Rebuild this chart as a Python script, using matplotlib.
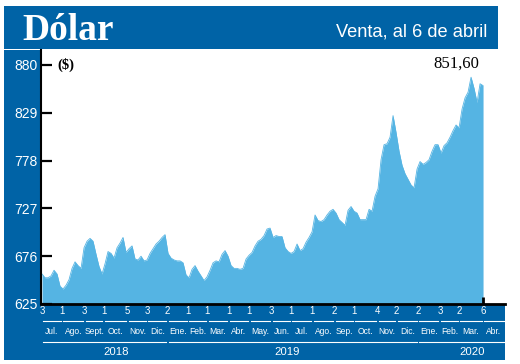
import matplotlib
matplotlib.use('Agg')
import matplotlib.pyplot as plt
from matplotlib import font_manager
from matplotlib.patches import Rectangle
from matplotlib.lines import Line2D
import pandas as pd

# Dólar venta (pesos), puntos repartidos entre el 3-jul-2018 y el 6-abr-2020
valores = [
    657, 653, 653, 655, 661, 657, 644, 641, 645, 651,
    663, 670, 666, 663, 685, 692, 695, 692, 678, 665,
    657, 668, 681, 679, 674, 685, 690, 696, 680, 684,
    687, 673, 672, 676, 671, 672, 679, 684, 689, 692,
    696, 699, 679, 674, 672, 671, 671, 669, 656, 653,
    662, 666, 660, 655, 650, 654, 661, 669, 671, 670,
    678, 682, 676, 666, 663, 663, 662, 663, 673, 677,
    680, 687, 692, 694, 698, 705, 706, 696, 698, 697,
    697, 685, 681, 679, 681, 689, 682, 684, 691, 696,
    702, 720, 714, 713, 715, 720, 724, 726, 722, 715,
    712, 709, 725, 729, 724, 722, 715, 715, 715, 726,
    724, 740, 748, 779, 795, 796, 803, 826, 808, 788,
    773, 764, 758, 752, 749, 769, 777, 774, 776, 779,
    788, 795, 795, 786, 794, 797, 803, 810, 816, 813,
    833, 845, 851, 867, 855, 840, 860, 858,
]
fecha_ini = '2018-07-03'
fecha_fin = '2020-04-06'

# primer día hábil mostrado de cada mes
dias_tick = [3, 1, 3, 1, 5, 3, 2, 1, 1, 1, 1, 3, 1, 1, 2, 1, 4, 2, 2, 3, 2, 6]
meses = ['Jul.', 'Ago.', 'Sept.', 'Oct.', 'Nov.', 'Dic.', 'Ene.', 'Feb.', 'Mar.', 'Abr.',
         'May.', 'Jun.', 'Jul.', 'Ago.', 'Sep.', 'Oct.', 'Nov.', 'Dic.', 'Ene.', 'Feb.',
         'Mar.', 'Abr.']
anios = ['2018', '2019', '2020']
y_ticks = [625, 676, 727, 778, 829, 880]
ultimo = '851,60'

# fuentes
nombres = {f.name for f in font_manager.fontManager.ttflist}
if 'Liberation Sans Narrow' in nombres:
    ANGOSTA = dict(family='Liberation Sans Narrow')
    k = 1.0
else:
    ANGOSTA = dict(family='Liberation Sans')
    k = 0.82

AZUL = '#0063a6'
CELESTE = '#55b4e3'
W, H = 520, 364

fechas = pd.date_range(fecha_ini, fecha_fin, periods=len(valores))
meses_ini = pd.date_range('2018-07-01', periods=len(dias_tick), freq='MS')
ticks = [m + pd.Timedelta(days=d - 1) for m, d in zip(meses_ini, dias_tick)]
t0 = pd.Timestamp(fecha_ini)
x_min = t0 - pd.Timedelta(days=1.5)
x_max = t0 + pd.Timedelta(days=675)

fig = plt.figure(figsize=(W / 100, H / 100), dpi=100)


def caja(x0, y0, x1, y1):
    return Rectangle((x0 / W, 1 - y1 / H), (x1 - x0) / W, (y1 - y0) / H,
                     transform=fig.transFigure, color=AZUL, lw=0, zorder=0)


fig.patches.extend([caja(4, 6, 498, 49), caja(4, 50, 41, 360), caja(41, 304, 505, 360)])

fig.text(22 / W, 1 - 39.5 / H, 'Dólar', color='white', fontsize=27, fontweight='bold',
         family='Liberation Serif', va='baseline', ha='left')
fig.text(487 / W, 1 - 36.7 / H, 'Venta, al 6 de abril', color='white', fontsize=16 * k,
         va='baseline', ha='right', **ANGOSTA)

ax = fig.add_axes([41 / W, 1 - 304 / H, 464 / W, 254 / H])
ax.set_zorder(1)
ax.fill_between(fechas, 625, valores, color=CELESTE, lw=0)
ax.plot(fechas, valores, color=CELESTE, lw=0.6)
ax.set_xlim(x_min, x_max)
ax.set_ylim(625, 880 + 15 / (239 / 255))

for s in ['top', 'right']:
    ax.spines[s].set_visible(False)
ax.spines['left'].set_linewidth(1.5)
ax.spines['bottom'].set_linewidth(2)

ax.set_yticks(y_ticks)
ax.set_yticklabels([str(v) for v in y_ticks], family='Liberation Sans')
ax.tick_params(axis='y', direction='in', length=8, width=1.6, color='black',
               labelcolor='white', labelsize=10, pad=2.5)
ax.set_xticks([fechas[-1]])
ax.set_xticklabels([''])
ax.tick_params(axis='x', direction='in', length=5, width=2, color='black')

ax.text((57 - 41) / 464, 880, '($)', transform=ax.get_yaxis_transform(), ha='left',
        va='center', family='Liberation Serif', fontweight='bold', fontsize=10.5)
ax.annotate(ultimo, xy=(fechas[-1], 881), xytext=(-3, 0), textcoords='offset points',
            ha='right', va='center', family='Liberation Serif', fontsize=12)

# eje x dibujado a mano: días, meses y años
trans = ax.get_xaxis_transform()


def fy(ypx):
    return (304 - ypx) / 254


fin = [ticks[i + 1] if i + 1 < len(ticks) else x_max for i in range(len(ticks))]
gap = pd.Timedelta(days=2)
for t, d, f, m in zip(ticks, dias_tick, fin, meses):
    ax.text(t, fy(311), str(d), transform=trans, ha='center', va='center', color='white',
            fontsize=8.5 * k, clip_on=False, **ANGOSTA)
    ax.add_line(Line2D([t + gap, f - gap], [fy(321), fy(321)], transform=trans,
                       color='white', lw=0.8, clip_on=False))
    ax.text(t + (f - t) / 2, fy(332), m, transform=trans, ha='center', va='center',
            color='white', fontsize=7.5 * k, clip_on=False, **ANGOSTA)

lim_anio = [ticks[0], ticks[6], ticks[18], x_max]
pos_anio = [t0 + pd.Timedelta(days=108), t0 + pd.Timedelta(days=357), t0 + pd.Timedelta(days=627)]
for i, a in enumerate(anios):
    ax.add_line(Line2D([lim_anio[i] + gap, lim_anio[i + 1] - gap], [fy(342), fy(342)],
                       transform=trans, color='white', lw=0.8, clip_on=False))
    ax.text(pos_anio[i], fy(352), a, transform=trans, ha='center', va='center',
            color='white', fontsize=10 * k, clip_on=False, **ANGOSTA)

fig.savefig('out.png', dpi=100)
